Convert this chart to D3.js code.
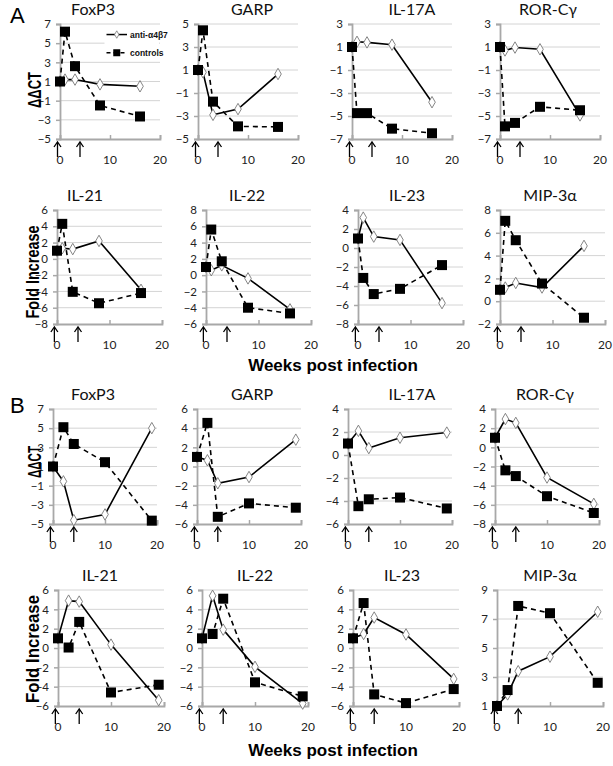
<!DOCTYPE html>
<html><head><meta charset="utf-8">
<script src="https://cdn.jsdelivr.net/npm/d3@7"></script>
<style>body{margin:0;background:#fff}svg{display:block}</style>
</head><body>
<script>
// ---------- data ----------
const genes = ["FoxP3","GARP","IL-17A","ROR-Cγ","IL-21","IL-22","IL-23","MIP-3α"];
const weeksA = [0,1,3,8,16];
const weeksB = [0,2,4,10,19];
const arrowWeeks = [-0.5, 4];
const xTicks = [0,10,20];
const seriesNames = ["anti-α4β7","controls"];

const antiA = [
  [1, 1.2, 1.2, 0.7, 0.5],
  [1, 0.8, -2.9, -2.4, 0.65],
  [1, 1.45, 1.4, 1.2, -3.8],
  [1, 0.7, 0.95, 0.8, -4.95],
  [1, 1.3, 1.2, 2.2, -3.8],
  [1, 0.6, 1.2, -0.4, -4.2],
  [1, 3.2, 1.2, 0.85, -5.8],
  [1, 1.2, 1.6, 1.2, 4.85]
];
const ctrlA = [
  [1, 6.2, 2.6, -1.5, -2.65],
  [1, 4.45, -1.75, -3.9, -3.95],
  [1, -4.75, -4.75, -6.1, -6.5],
  [1, -5.9, -5.6, -4.2, -4.5],
  [1, 4.3, -4.05, -5.45, -4.2],
  [1, 5.6, 1.7, -4.0, -4.7],
  [1, -3.15, -4.85, -4.3, -1.8],
  [1, 7.05, 5.35, 1.55, -1.45]
];
const antiB = [
  [1, -0.55, -4.6, -4.0, 5.0],
  [1, 0.65, -1.75, -1.1, 2.8],
  [1, 2.1, 0.6, 1.5, 1.95],
  [1, 2.95, 2.55, -3.15, -5.9],
  [1, 4.9, 4.8, 0.35, -5.4],
  [1, 5.4, 1.9, -1.95, -5.75],
  [1, 1.45, 3.15, 1.4, -3.2],
  [1, 1.8, 3.4, 4.4, 7.5]
];
const ctrlB = [
  [1, 5.1, 3.35, 1.45, -4.65],
  [1, 4.55, -5.25, -3.85, -4.3],
  [1, -4.45, -3.85, -3.7, -4.65],
  [1, -2.4, -3.0, -5.1, -6.85],
  [1, 0.05, 2.7, -4.6, -3.8],
  [1, 1.45, 5.1, -3.55, -5.0],
  [1, 4.65, -4.8, -5.7, -4.25],
  [1, 2.1, 7.9, 7.4, 2.6]
];
const yDomA = [[-5,7],[-5,5],[-7,3],[-7,3],[-8,6],[-6,8],[-8,4],[-2,8]];
const yDomB = [[-5,7],[-6,6],[-6,4],[-8,4],[-6,6],[-6,6],[-6,6],[1,9]];

// ---------- layout ----------
const W = 613, H = 766;
const rows = [ // [top, bottom] for each row of panels
  {top:24, bot:139, cols:[60,198,352,500], w:100},
  {top:210, bot:324, cols:[57,206,358,500], w:105},
  {top:409, bot:524, cols:[53,197,348,495], w:104},
  {top:590, bot:706, cols:[58,202,353,497], w:106}
];
const titleX = [[93,252,412,548],[85,247,407,550],[93,252,412,545],[100,255,402,550]];

const svg = d3.select("body").append("svg").attr("width",W).attr("height",H);

function panel(rowIdx, colIdx, gi, weeks, anti, ctrl, ydom, showLegend){
  const R = rows[rowIdx];
  const x0 = R.cols[colIdx];
  const x = d3.scaleLinear().domain([0,20]).range([x0, x0 + R.w]);
  const y = d3.scaleLinear().domain(ydom).range([R.bot, R.top]);
  const g = svg.append("g");
  const yt = d3.range(ydom[0], ydom[1] + 0.001, 2);
  // gridlines
  g.selectAll("line.grid").data(yt.slice(1)).join("line")
    .attr("x1", x(0)).attr("x2", x(20)).attr("y1", d=>y(d)).attr("y2", d=>y(d))
    .attr("stroke","#d4d4d4").attr("stroke-width",1);
  // y axis
  const ya = d3.axisLeft(y).tickValues(yt).tickSize(4).tickPadding(5).tickFormat(d3.format("d"));
  const yg = g.append("g").attr("transform",`translate(${x(0)},0)`).call(ya);
  yg.select(".domain").attr("stroke","#a8a8a8").attr("stroke-width",1.8);
  yg.selectAll(".tick line").attr("stroke","#a8a8a8").attr("stroke-width",1.5);
  yg.selectAll("text").attr("font-family","Lato, 'Open Sans', sans-serif").attr("font-size",11.5).attr("fill","#222");
  // x axis
  const xa = d3.axisTop(x).tickValues(xTicks).tickSize(4).tickFormat("");
  const xg = g.append("g").attr("transform",`translate(0,${y(ydom[0])})`).call(xa);
  xg.select(".domain").attr("stroke","#a8a8a8").attr("stroke-width",1.8);
  xg.selectAll(".tick line").attr("stroke","#a8a8a8").attr("stroke-width",1.5);
  g.selectAll("text.xt").data(xTicks).join("text")
    .attr("x", d=>x(d)).attr("y", y(ydom[0]) + 25)
    .attr("text-anchor","middle").attr("font-family","Lato, 'Open Sans', sans-serif")
    .attr("font-size",12).attr("fill","#222").text(d=>d);
  // arrows
  const ab = y(ydom[0]);
  arrowWeeks.forEach(wk=>{
    const ax = x(wk);
    g.append("line").attr("x1",ax).attr("x2",ax).attr("y1",ab+4).attr("y2",ab+18)
      .attr("stroke","#000").attr("stroke-width",1.3);
    g.append("path").attr("d",`M${ax-3.5},${ab+8} L${ax},${ab+3} L${ax+3.5},${ab+8}`)
      .attr("fill","none").attr("stroke","#000").attr("stroke-width",1.3);
  });
  // title
  svg.append("text").attr("x", titleX[rowIdx][colIdx]).attr("y", R.top - 9)
    .attr("text-anchor","middle").attr("font-family","Lato, 'Open Sans', sans-serif")
    .attr("font-size",16).attr("fill","#111").text(genes[gi]);
  // legend
  if (showLegend){
    const lg = g.append("g");
    lg.append("rect").attr("x",x(8.9)).attr("y",y(6.2)).attr("width",x(20)-x(8.9)-1).attr("height",y(3.6)-y(6.2)).attr("fill","#fff");
    const lx1 = x(9.3), lx2 = x(13.4);
    const ly = [y(5.9), y(4.0)];
    lg.append("line").attr("x1",lx1).attr("x2",lx2).attr("y1",ly[0]).attr("y2",ly[0]).attr("stroke","#000").attr("stroke-width",1.5);
    lg.append("path").attr("d",d3.symbol(d3.symbolDiamond, 16)()).attr("transform",`translate(${(lx1+lx2)/2},${ly[0]})`)
      .attr("fill","#fff").attr("stroke","#777").attr("stroke-width",0.8);
    lg.append("line").attr("x1",lx1).attr("x2",lx2).attr("y1",ly[1]).attr("y2",ly[1]).attr("stroke","#000").attr("stroke-width",1.5).attr("stroke-dasharray","4,3");
    lg.append("rect").attr("x",(lx1+lx2)/2-3.5).attr("y",ly[1]-3.5).attr("width",7).attr("height",7).attr("fill","#000");
    seriesNames.forEach((s,i)=>{
      lg.append("text").attr("x",lx2+3).attr("y",ly[i]+3).attr("font-family","'Liberation Sans', Arial, sans-serif")
        .attr("font-weight","bold").attr("font-size",8.5).attr("fill","#111").text(s);
    });
  }
  // series
  const line = d3.line().x((d,i)=>x(weeks[i])).y(d=>y(d));
  g.append("path").attr("d", line(anti)).attr("fill","none").attr("stroke","#000").attr("stroke-width",1.6);
  g.selectAll("path.dia").data(anti).join("path").attr("class","dia")
    .attr("d", d3.symbol(d3.symbolDiamond, 38)())
    .attr("transform",(d,i)=>`translate(${x(weeks[i])},${y(d)})`)
    .attr("fill","#fff").attr("stroke","#777").attr("stroke-width",0.9);
  g.append("path").attr("d", line(ctrl)).attr("fill","none").attr("stroke","#000").attr("stroke-width",1.6).attr("stroke-dasharray","5,4");
  g.selectAll("rect.sq").data(ctrl).join("rect").attr("class","sq")
    .attr("x",(d,i)=>x(weeks[i])-5).attr("y",d=>y(d)-5).attr("width",10).attr("height",10).attr("fill","#000");
}

for (let i=0;i<8;i++){
  panel(Math.floor(i/4), i%4, i, weeksA, antiA[i], ctrlA[i], yDomA[i], i===0);
  panel(2+Math.floor(i/4), i%4, i, weeksB, antiB[i], ctrlB[i], yDomB[i], false);
}

// axis titles
function vlabel(txt, cx, cy, size, len){
  const t = svg.append("text").attr("transform",`translate(${cx},${cy}) rotate(-90)`)
    .attr("text-anchor","middle").attr("dominant-baseline","central")
    .attr("font-family","'Liberation Sans', Arial, sans-serif").attr("font-weight","bold")
    .attr("font-size",size).attr("fill","#000").text(txt);
  if (len) t.attr("textLength",len).attr("lengthAdjust","spacingAndGlyphs");
}
vlabel("ΔΔCT", 35, 90, 18, 36);
vlabel("Fold Increase", 33, 272, 18, 93);
vlabel("ΔΔCT", 35, 462, 18, 32);
vlabel("Fold Increase", 33, 649, 18, 108);

[[333,371],[333,756]].forEach(p=>{
  svg.append("text").attr("x",p[0]).attr("y",p[1]).attr("text-anchor","middle")
    .attr("font-family","'Liberation Sans', Arial, sans-serif").attr("font-weight","bold")
    .attr("font-size",17).attr("fill","#000").text("Weeks post infection");
});
[["A",10,23],["B",10,413]].forEach(p=>{
  svg.append("text").attr("x",p[1]).attr("y",p[2]).attr("font-family","'Liberation Sans', Arial, sans-serif")
    .attr("font-size",22).attr("fill","#000").text(p[0]);
});
</script>
</body></html>
